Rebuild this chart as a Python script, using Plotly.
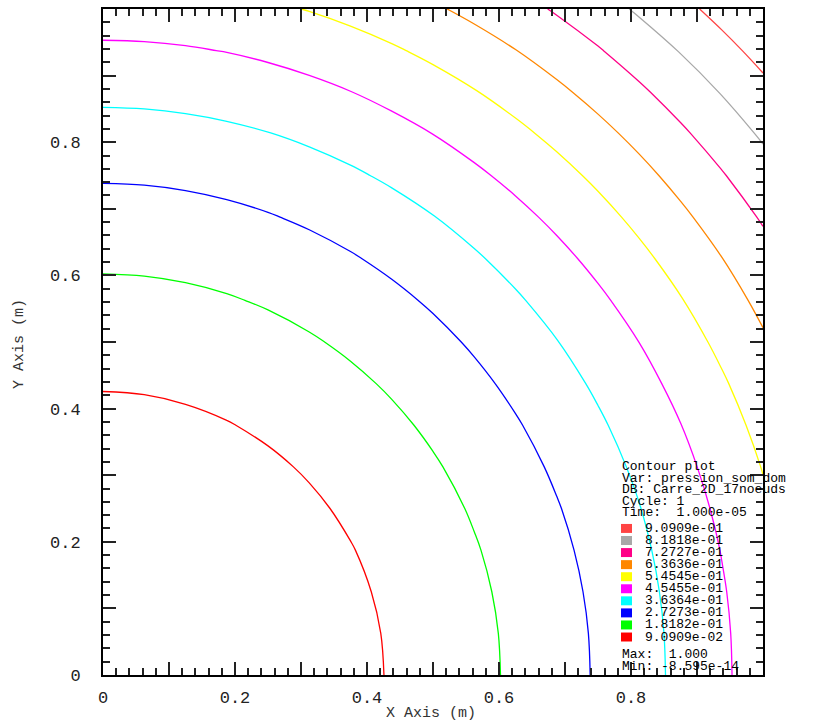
import numpy as np
import plotly.graph_objects as go

# Nodal pressure along one edge of the 17-node square mesh (node spacing 1/16).
node_coords = [i / 16 for i in range(17)]
edge_pressure = [0.0, 0.001953, 0.0078125, 0.017578, 0.03125, 0.048828, 0.0703125,
                 0.095703, 0.125, 0.158203, 0.195313, 0.236328, 0.28125, 0.330078,
                 0.382813, 0.439453, 0.5]

# Contour levels (low to high) and their line colours
levels = [9.0909e-02, 1.8182e-01, 2.7273e-01, 3.6364e-01, 4.5455e-01,
          5.4545e-01, 6.3636e-01, 7.2727e-01, 8.1818e-01, 9.0909e-01]
level_colors = ["#ff0000", "#00ff00", "#0000ff", "#00ffff", "#ff00ff",
                "#ffff00", "#ff8700", "#ff0087", "#a8a8a8", "#ff4444"]

# Axis tick values and labels
tick_vals = [0.0, 0.1, 0.2, 0.3, 0.4, 0.5, 0.6, 0.7, 0.8, 0.9]
tick_text = ["0", "", "0.2", "", "0.4", "", "0.6", "", "0.8", ""]

# Legend header lines
legend_header = ["Contour plot", "Var: pression_som_dom", "DB: Carre_2D_17noeuds",
                 "Cycle: 1", "Time:  1.000e-05"]
legend_footer = ["Max:  1.000", "Min: -8.595e-14"]

# Pressure field on the mesh: sum of the edge profiles in x and y
ep = np.array(edge_pressure)
field = ep[:, None] + ep[None, :]

W, H = 817, 728
L, R, T, B = 103, 54, 7, 53
plot_w = W - L - R
plot_h = H - T - B

FONT = "Liberation Mono"


def px_x(px):
    return (px - L) / plot_w


def px_y(py):
    return (H - B - py) / plot_h


fig = go.Figure()

for lvl, col in zip(levels, level_colors):
    fig.add_trace(go.Contour(
        x=node_coords, y=node_coords, z=field,
        contours=dict(type="constraint", operation="=", value=lvl),
        line=dict(color=col, width=1.3, smoothing=1),
        showscale=False, hoverinfo="skip",
    ))

axis_common = dict(
    range=[0, 1], showgrid=False, zeroline=False,
    showline=True, linecolor="black", linewidth=2, mirror="ticks",
    ticks="inside", ticklen=13, tickwidth=1.5, tickcolor="#222",
    tickvals=tick_vals, ticktext=tick_text,
    minor=dict(ticks="inside", ticklen=7, tickwidth=1.5, tickcolor="#222",
               dtick=0.02, showgrid=False),
    tickfont=dict(family=FONT, size=17, color="#222"),
)

fig.update_xaxes(**axis_common, ticklabelstandoff=6)
fig.update_yaxes(**axis_common, ticklabelstandoff=17)

title_font = dict(family=FONT, size=15, color="#333")
annotations = [
    dict(text="X Axis (m)", x=px_x(431), y=px_y(714), xref="paper", yref="paper",
         showarrow=False, xanchor="center", yanchor="middle", font=title_font),
    dict(text="Y Axis (m)", x=px_x(20), y=px_y(343), xref="paper", yref="paper",
         showarrow=False, xanchor="center", yanchor="middle", textangle=-90,
         font=title_font),
]

legend_font = dict(family=FONT, size=13, color="black")
header_y = [466, 477.5, 489, 500.5, 512]
for txt, yy in zip(legend_header, header_y):
    annotations.append(dict(text=txt, x=px_x(620), y=px_y(yy), xref="paper", yref="paper",
                            showarrow=False, xanchor="left", yanchor="middle",
                            font=legend_font))

shapes = []
entry_y0, entry_dy = 528, 12.1
for k, (lvl, col) in enumerate(zip(levels[::-1], level_colors[::-1])):
    yy = entry_y0 + k * entry_dy
    shapes.append(dict(type="rect", xref="paper", yref="paper",
                       x0=px_x(621), x1=px_x(632), y0=px_y(yy - 4.5), y1=px_y(yy + 4.5),
                       fillcolor=col, line=dict(width=0)))
    annotations.append(dict(text=f"{lvl:.4e}", x=px_x(643), y=px_y(yy), xref="paper",
                            yref="paper", showarrow=False, xanchor="left", yanchor="middle",
                            font=legend_font))

for txt, yy in zip(legend_footer, [654, 666]):
    annotations.append(dict(text=txt, x=px_x(620), y=px_y(yy), xref="paper", yref="paper",
                            showarrow=False, xanchor="left", yanchor="middle",
                            font=legend_font))

fig.update_layout(
    width=W, height=H,
    margin=dict(l=L, r=R, t=T, b=B, pad=0),
    paper_bgcolor="white", plot_bgcolor="white",
    showlegend=False,
    annotations=annotations, shapes=shapes,
)

fig.write_html("out.html")
